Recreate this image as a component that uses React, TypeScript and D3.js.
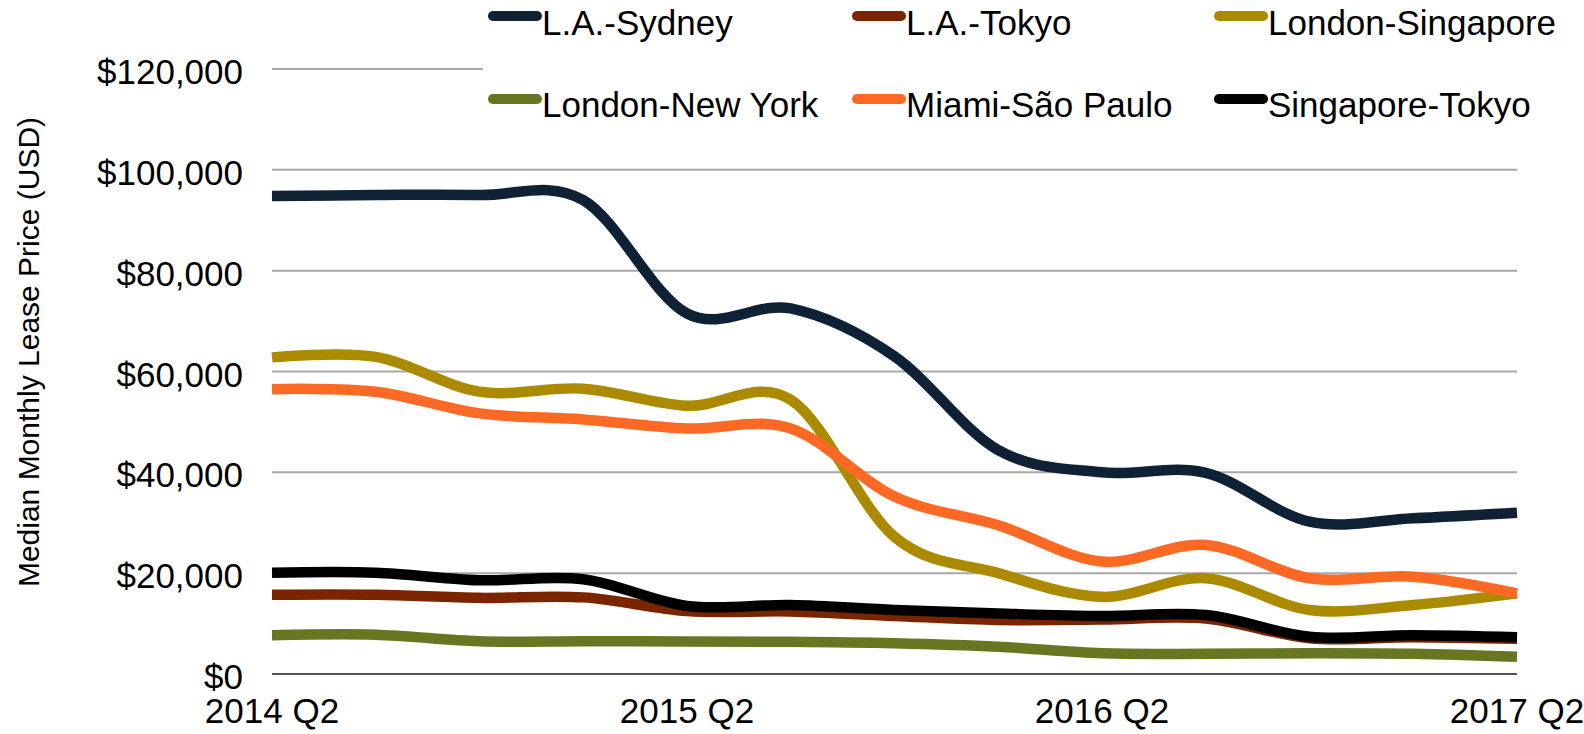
import { scaleLinear, scalePoint, line, curveCatmullRom } from "d3";

const quarters = [
  "2014 Q2", "2014 Q3", "2014 Q4", "2015 Q1", "2015 Q2", "2015 Q3", "2015 Q4",
  "2016 Q1", "2016 Q2", "2016 Q3", "2016 Q4", "2017 Q1", "2017 Q2",
];
const xTickLabels = ["2014 Q2", "2015 Q2", "2016 Q2", "2017 Q2"];
const yTicks = [0, 20000, 40000, 60000, 80000, 100000, 120000];

const laSydney = [94800, 95000, 95000, 94000, 71500, 72500, 63000, 44400, 40000, 39900, 30200, 30900, 32000];
const laTokyo = [15700, 15700, 15100, 15200, 12500, 12400, 11500, 10700, 10800, 11000, 7100, 7300, 7000];
const londonSingapore = [62800, 62900, 56000, 56600, 53200, 54400, 27200, 20000, 15300, 19000, 12700, 13700, 16000];
const londonNewYork = [7700, 7800, 6500, 6500, 6450, 6400, 6100, 5400, 4100, 4000, 4100, 4000, 3400];
const miamiSaoPaulo = [56500, 56000, 51700, 50500, 48700, 48700, 35200, 29500, 22300, 25600, 19000, 19300, 16000];
const singaporeTokyo = [20100, 20100, 18600, 18800, 13500, 13700, 12700, 12000, 11500, 11700, 7400, 7700, 7300];

const seriesNames = ["L.A.-Sydney", "L.A.-Tokyo", "London-Singapore", "London-New York", "Miami-São Paulo", "Singapore-Tokyo"];
const seriesValues = [laSydney, laTokyo, londonSingapore, londonNewYork, miamiSaoPaulo, singaporeTokyo];
const seriesColors = ["#0f2135", "#7a2500", "#ac8a00", "#687621", "#fc6924", "#000000"];

const W = 1584;
const H = 734;
const font = "'Liberation Sans', Arial, Helvetica, sans-serif";

const App = () => {
  const x = scalePoint<string>().domain(quarters).range([272, 1517]);
  const y = scaleLinear().domain([0, 120000]).range([674, 69]);

  const path = line<number>()
    .x((_, i) => x(quarters[i])!)
    .y((d) => y(d))
    .curve(curveCatmullRom.alpha(0));

  const fmt = (v: number) => "$" + v.toLocaleString("en-US");

  return (
    <svg
      width={W}
      height={H}
      style={{ position: "absolute", top: 0, left: 0, display: "block", background: "#fff" }}
      fontFamily={font}
    >
      {/* grid + y labels */}
      {yTicks.map((t) => (
        <g key={t}>
          <line
            x1={272}
            x2={1517}
            y1={y(t)}
            y2={y(t)}
            stroke={t === 0 ? "#555" : "#a8a8a8"}
            strokeWidth={2}
          />
          <text x={243} y={y(t) + 15} textAnchor="end" fontSize={35} fill="#000">
            {fmt(t)}
          </text>
        </g>
      ))}

      {xTickLabels.map((q) => (
        <text key={q} x={x(q)!} y={723} textAnchor="middle" fontSize={35} fill="#000">
          {q}
        </text>
      ))}

      <text
        transform="translate(39,352) rotate(-90)"
        textAnchor="middle"
        fontSize={30}
        fill="#000"
      >
        Median Monthly Lease Price (USD)
      </text>

      {/* lines */}
      {seriesValues.map((vals, i) => (
        <path
          key={seriesNames[i]}
          d={path(vals)!}
          fill="none"
          stroke={seriesColors[i]}
          strokeWidth={10.5}
        />
      ))}

      {/* legend */}
      <rect x={483} y={0} width={W - 483} height={128} fill="#fff" />
      {seriesNames.map((name, i) => {
        const col = i % 3;
        const row = Math.floor(i / 3);
        const sx = [488, 852, 1214][col];
        const sy = [16, 99][row];
        const by = [35, 117][row];
        return (
          <g key={name}>
            <line
              x1={sx + 5}
              x2={sx + 49}
              y1={sy}
              y2={sy}
              stroke={seriesColors[i]}
              strokeWidth={10}
              strokeLinecap="round"
            />
            <text x={sx + 54} y={by} fontSize={35} fill="#000">
              {name}
            </text>
          </g>
        );
      })}
    </svg>
  );
};

export default App;
